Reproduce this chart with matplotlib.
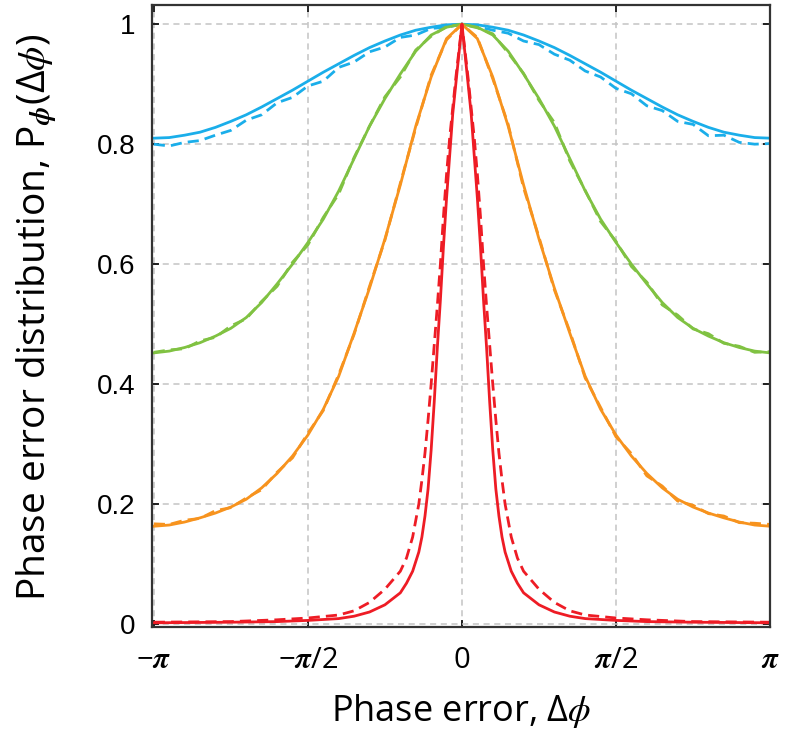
import matplotlib
matplotlib.use("Agg")
import matplotlib.pyplot as plt
import numpy as np

# Phase error in units of pi (half axis, mirrored for symmetric curves)
u_half = [0.0, 0.05, 0.10, 0.15, 0.20, 0.25, 0.30, 0.35, 0.40, 0.45, 0.50,
          0.55, 0.60, 0.65, 0.70, 0.75, 0.80, 0.85, 0.90, 0.95, 1.0]

blue_solid = [1.0, 0.999, 0.995, 0.990, 0.982, 0.972, 0.961, 0.948, 0.934, 0.920, 0.905,
              0.890, 0.876, 0.862, 0.849, 0.838, 0.828, 0.820, 0.815, 0.811, 0.810]
green_solid = [1.0, 0.995, 0.982, 0.955, 0.917, 0.876, 0.830, 0.776, 0.722, 0.675, 0.636,
               0.600, 0.567, 0.536, 0.511, 0.493, 0.480, 0.469, 0.461, 0.455, 0.452]
orange_solid = [1.0, 0.976, 0.912, 0.830, 0.732, 0.642, 0.560, 0.485, 0.413, 0.358, 0.315,
                0.280, 0.251, 0.227, 0.208, 0.195, 0.185, 0.177, 0.170, 0.165, 0.163]

# simulated (dashed) curves, full axis -pi..pi
u_full = [-1.00, -0.95, -0.90, -0.85, -0.80, -0.75, -0.70, -0.65, -0.60, -0.55, -0.50,
          -0.45, -0.40, -0.35, -0.30, -0.25, -0.20, -0.15, -0.10, -0.05, 0.00,
          0.05, 0.10, 0.15, 0.20, 0.25, 0.30, 0.35, 0.40, 0.45, 0.50,
          0.55, 0.60, 0.65, 0.70, 0.75, 0.80, 0.85, 0.90, 0.95, 1.00]
blue_dash = [0.800, 0.797, 0.803, 0.806, 0.815, 0.823, 0.840, 0.849, 0.869, 0.878, 0.897,
             0.905, 0.928, 0.937, 0.954, 0.962, 0.978, 0.982, 0.993, 0.995, 1.000,
             0.996, 0.990, 0.985, 0.972, 0.966, 0.950, 0.940, 0.922, 0.912, 0.893,
             0.884, 0.864, 0.856, 0.838, 0.833, 0.814, 0.815, 0.803, 0.800, 0.801]
green_dash = [0.453, 0.457, 0.459, 0.472, 0.478, 0.497, 0.509, 0.538, 0.563, 0.603, 0.632,
              0.678, 0.717, 0.778, 0.830, 0.879, 0.912, 0.957, 0.980, 0.996, 1.000,
              0.994, 0.984, 0.952, 0.918, 0.873, 0.836, 0.772, 0.723, 0.671, 0.638,
              0.596, 0.570, 0.532, 0.515, 0.492, 0.484, 0.468, 0.463, 0.453, 0.454]
orange_dash = [0.167, 0.166, 0.173, 0.176, 0.189, 0.194, 0.210, 0.224, 0.253, 0.277, 0.318,
               0.356, 0.416, 0.483, 0.563, 0.640, 0.735, 0.827, 0.915, 0.974, 1.000,
               0.978, 0.909, 0.833, 0.727, 0.645, 0.557, 0.488, 0.410, 0.361, 0.312,
               0.284, 0.247, 0.230, 0.205, 0.198, 0.184, 0.180, 0.169, 0.168, 0.166]

u_red = [0.0, 0.01, 0.02, 0.03, 0.04, 0.05, 0.06, 0.07, 0.08, 0.09, 0.10, 0.11, 0.12,
         0.13, 0.14, 0.16, 0.18, 0.20, 0.25, 0.30, 0.35, 0.40, 0.50, 0.60, 0.75, 1.0]
red_solid = [1.0, 0.95, 0.90, 0.85, 0.78, 0.71, 0.63, 0.54, 0.46, 0.37, 0.29, 0.225, 0.18,
             0.145, 0.12, 0.088, 0.068, 0.052, 0.032, 0.020, 0.013, 0.009, 0.006, 0.004, 0.003, 0.002]
red_dash = [1.0, 0.955, 0.91, 0.86, 0.81, 0.75, 0.68, 0.60, 0.53, 0.465, 0.40, 0.34, 0.285,
            0.24, 0.20, 0.145, 0.11, 0.088, 0.058, 0.036, 0.022, 0.015, 0.010, 0.007, 0.004, 0.003]

c_blue = '#1aaeea'
c_green = '#80c242'
c_orange = '#f7931e'
c_red = '#ee1c25'

def mirror(u, v):
    u = np.asarray(u)
    v = np.asarray(v)
    return np.concatenate([-u[::-1], u[1:]]) * np.pi, np.concatenate([v[::-1], v[1:]])

plt.rcParams['mathtext.fontset'] = 'custom'
plt.rcParams['mathtext.rm'] = 'Open Sans'
plt.rcParams['mathtext.it'] = 'STIXGeneral:italic'
plt.rcParams['mathtext.bf'] = 'STIXGeneral:italic:bold'

fig = plt.figure(figsize=(7.85, 7.5), dpi=100)
ax = fig.add_axes([0.1936, 0.164, 0.7874, 0.8293])

lw = 2.0
dash = (0, (4.0, 2.2))
for uh, vs, ud, vd, c in [(u_half, blue_solid, u_full, blue_dash, c_blue),
                          (u_half, green_solid, u_full, green_dash, c_green),
                          (u_half, orange_solid, u_full, orange_dash, c_orange)]:
    xs, ys = mirror(uh, vs)
    ax.plot(np.asarray(ud) * np.pi, vd, color=c, lw=lw, ls=dash)
    ax.plot(xs, ys, color=c, lw=lw)

xs, ys = mirror(u_red, red_dash)
ax.plot(xs, ys, color=c_red, lw=lw, ls=dash)
xs, ys = mirror(u_red, red_solid)
ax.plot(xs, ys, color=c_red, lw=lw)

ax.set_xlim(-np.pi * 1.006, np.pi)
ax.set_ylim(-0.005, 1.032)
ax.set_xticks([-np.pi, -np.pi / 2, 0, np.pi / 2, np.pi])
ax.set_xticklabels([r'$-\mathbf{\pi}$', r'$-\mathbf{\pi}/2$', '0', r'$\mathbf{\pi}/2$', r'$\mathbf{\pi}$'],
                   fontsize=21, family='Open Sans')
ax.set_yticks([0, 0.2, 0.4, 0.6, 0.8, 1.0])
ax.set_yticklabels(['0', '0.2', '0.4', '0.6', '0.8', '1'], fontsize=20,
                   family='Liberation Sans')
ax.tick_params(direction='in', top=True, right=True, length=5, width=1.2)
ax.tick_params(axis='x', pad=14)
ax.tick_params(axis='y', pad=12)
ax.grid(True, color='#c4c4c4', ls=(0, (4, 3)), lw=1.1)
for s in ax.spines.values():
    s.set_color('#333333')
    s.set_linewidth(1.6)

ax.set_xlabel(r'Phase error, $\Delta\phi$', fontsize=26, family='Open Sans')
ax.set_ylabel(r'Phase error distribution, P$_{\mathbf{\phi}}(\Delta\phi)$', fontsize=28,
              family='Open Sans')
ax.xaxis.set_label_coords(0.5, -0.105)
ax.yaxis.set_label_coords(-0.15, 0.498)

fig.savefig('out.png', dpi=100)
